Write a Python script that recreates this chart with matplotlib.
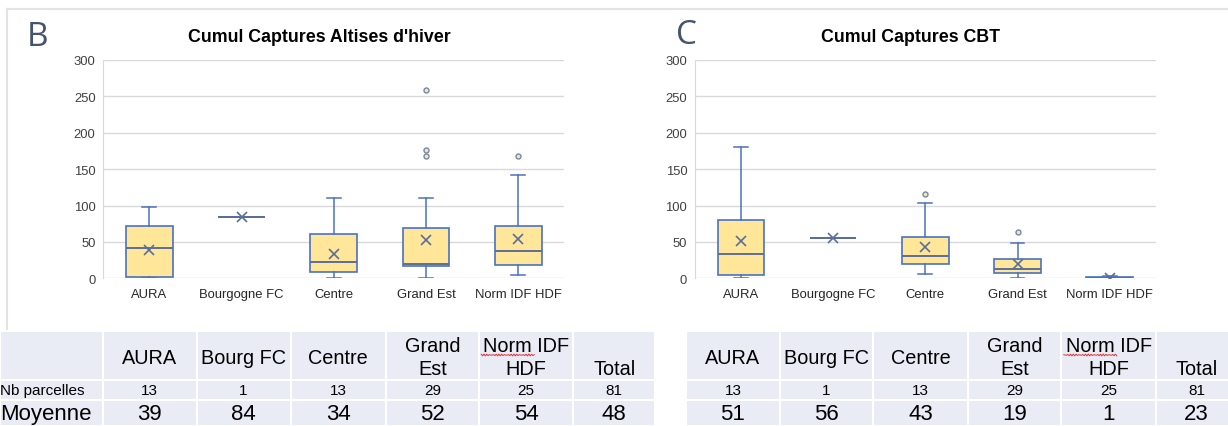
import numpy as np
import matplotlib.pyplot as plt
from matplotlib.patches import Rectangle

plt.rcParams['font.family'] = ['Liberation Sans', 'DejaVu Sans']

regions = ["AURA", "Bourgogne FC", "Centre", "Grand Est", "Norm IDF HDF"]
table_cols = ["AURA", "Bourg FC", "Centre", "Grand\nEst", "Norm IDF\nHDF", "Total"]
nb_parcelles = [13, 1, 13, 29, 25, 81]

# Altises d'hiver : box stats per region
alt_whislo = [1, 84, 0, 1, 4]
alt_q1 = [2, 84, 9, 17, 18]
alt_med = [42, 84, 23, 20, 37]
alt_q3 = [72, 84, 61, 69, 72]
alt_whishi = [98, 84, 110, 111, 142]
alt_fliers = [[], [], [], [259, 176, 168], [168]]
alt_moy = [39, 84, 34, 52, 54, 48]   # regions + total

# CBT : box stats per region
cbt_whislo = [1, 56, 6, 1, 0]
cbt_q1 = [4, 56, 19, 7, 0.5]
cbt_med = [34, 56, 30, 13, 1]
cbt_q3 = [80, 56, 57, 26, 2]
cbt_whishi = [181, 56, 103, 49, 3]
cbt_fliers = [[], [], [116], [64], []]
cbt_moy = [51, 56, 43, 19, 1, 23]

W, H = 1228, 427
BOX_FILL = '#FFE699'
BOX_EDGE = '#4A72C0'
MID = '#5B6E99'
GRID = '#D9D9D9'
CELL = '#E9EBF5'
LETTER = '#44546A'


def boxplot(ax, whislo, q1, med, q3, whishi, fliers, moy):
    stats = []
    for i, lab in enumerate(regions):
        stats.append(dict(label=lab, whislo=whislo[i], q1=q1[i], med=med[i],
                          q3=q3[i], whishi=whishi[i], fliers=fliers[i], mean=moy[i]))
    ax.bxp(stats, positions=range(len(regions)), widths=0.506, capwidths=0.15,
           showmeans=True, patch_artist=True,
           boxprops=dict(facecolor=BOX_FILL, edgecolor=BOX_EDGE, linewidth=1.2),
           whiskerprops=dict(color=BOX_EDGE, linewidth=1.1),
           capprops=dict(color=BOX_EDGE, linewidth=1.1),
           medianprops=dict(color=MID, linewidth=1.4),
           meanprops=dict(marker='x', markeredgecolor=MID, markersize=7, markeredgewidth=1.2),
           flierprops=dict(marker='o', markerfacecolor=BOX_FILL, markeredgecolor='#7088B8',
                           markersize=3.6, markeredgewidth=1))
    ax.set_xlim(-0.5, len(regions) - 0.5)
    ax.set_ylim(0, 300)
    ax.set_yticks(np.arange(0, 301, 50))
    ax.yaxis.grid(True, color=GRID, linewidth=1)
    ax.set_axisbelow(True)
    for s in ['top', 'right', 'bottom']:
        ax.spines[s].set_visible(False)
    ax.spines['left'].set_color(GRID)
    ax.tick_params(axis='y', length=0, pad=5.5, labelsize=9.4, labelcolor='#404040')
    ax.tick_params(axis='x', length=0, pad=7, labelsize=9.4, labelcolor='#262626')


def px_axes(x0, x1, ytop, ybot):
    return [x0 / W, 1 - ybot / H, (x1 - x0) / W, (ybot - ytop) / H]


fig = plt.figure(figsize=(W / 100, H / 100), dpi=100)

ax1 = fig.add_axes(px_axes(103.2, 564.3, 61, 279.3))
boxplot(ax1, alt_whislo, alt_q1, alt_med, alt_q3, alt_whishi, alt_fliers, alt_moy)
ax2 = fig.add_axes(px_axes(694.8, 1155.9, 61, 279.3))
boxplot(ax2, cbt_whislo, cbt_q1, cbt_med, cbt_q3, cbt_whishi, cbt_fliers, cbt_moy)

# overlay in pixel coordinates for titles, frame and tables
ov = fig.add_axes([0, 0, 1, 1], zorder=-1)
ov.set_xlim(0, W)
ov.set_ylim(H, 0)
ov.axis('off')

ov.plot([7, W], [10, 10], color='#E3E3E3', lw=1.5)
ov.plot([7, 7], [10, 330], color='#E3E3E3', lw=1.5)

ov.text(38, 37, 'B', fontsize=24, color=LETTER, family=['Open Sans', 'DejaVu Sans'],
        ha='center', va='center')
ov.text(687, 36, 'C', fontsize=24, color=LETTER, family=['Open Sans', 'DejaVu Sans'],
        ha='center', va='center')
ov.text(319, 38, "Cumul Captures Altises d'hiver", fontsize=12.8, fontweight='bold',
        ha='center', va='center')
ov.text(911, 38, "Cumul Captures CBT", fontsize=12.8, fontweight='bold',
        ha='center', va='center')

rows_y = [331.7, 381, 401, 426.5]


def draw_table(edges, moy, with_labels):
    ncol = len(edges) - 1
    for r in range(3):
        for c in range(ncol):
            ov.add_patch(Rectangle((edges[c], rows_y[r]), edges[c + 1] - edges[c],
                                   rows_y[r + 1] - rows_y[r], facecolor=CELL,
                                   edgecolor='white', lw=1.5))
    off = 1 if with_labels else 0
    if with_labels:
        ov.text(0.5, 391, 'Nb parcelles', fontsize=11, ha='left', va='center')
        ov.text(0.5, 414.5, 'Moyenne', fontsize=16, ha='left', va='center')
    for i, name in enumerate(table_cols):
        cx = (edges[i + off] + edges[i + off + 1]) / 2
        if '\n' in name:
            top, bot = name.split('\n')
            ov.text(cx, 346.7, top, fontsize=14.3, ha='center', va='center')
            ov.text(cx, 370, bot, fontsize=14.3, ha='center', va='center')
            if top.startswith('Norm'):
                xs = np.linspace(cx - 45, cx + 8, 40)
                ov.plot(xs, 356 + 0.9 * np.sin(xs * 2.1), color='#E03030', lw=0.7)
        elif name == 'Total':
            ov.text(cx, 370, name, fontsize=14.3, ha='center', va='center')
        else:
            ov.text(cx, 359, name, fontsize=14.3, ha='center', va='center')
        ov.text(cx, 391, str(nb_parcelles[i]), fontsize=11, ha='center', va='center')
        ov.text(cx, 414.5, str(moy[i]), fontsize=16, ha='center', va='center')


draw_table([0, 102.8, 196.5, 290.6, 385.5, 479.2, 573.3, 655], alt_moy, True)
draw_table([686, 779.8, 873.2, 967.8, 1061.3, 1156.3, 1237], cbt_moy, False)

fig.savefig('out.png', dpi=100)
